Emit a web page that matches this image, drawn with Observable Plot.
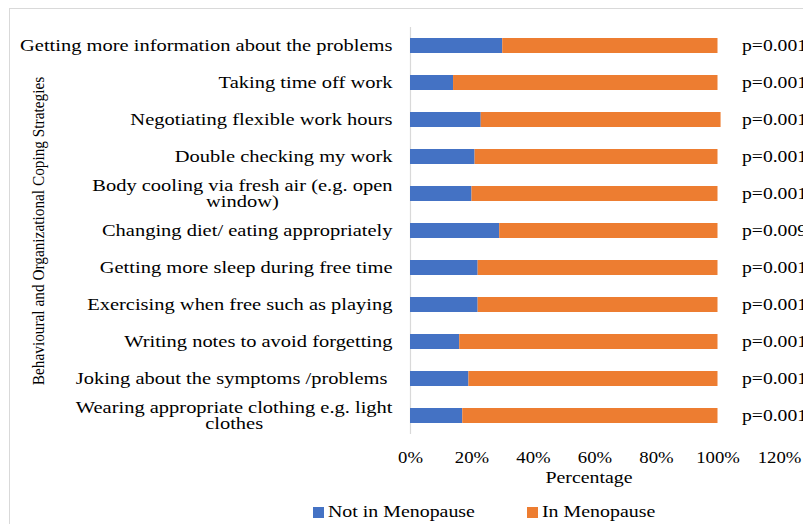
<!DOCTYPE html>
<html>
<head>
<meta charset="utf-8">
<script src="https://cdn.jsdelivr.net/npm/d3@7"></script>
<script src="https://cdn.jsdelivr.net/npm/@observablehq/plot@0.6"></script>
<style>
  html, body { margin: 0; padding: 0; background: #fff; overflow: hidden; width: 803px; height: 524px; }
  #wrap { position: relative; width: 803px; height: 524px; overflow: hidden; font-family: "Liberation Serif", "Times New Roman", serif; color: #000; }
  #frame { position: absolute; left: 9px; top: 8px; width: 900px; height: 600px; border: 1px solid #d9d9d9; pointer-events: none; }
  #chart { position: absolute; left: 0; top: 0; }
  #chart svg { overflow: hidden; }
  .lg { position: absolute; top: 502px; height: 20px; line-height: 20px; font-size: 17px; white-space: nowrap; }
  .lg .sw { display: inline-block; width: 11px; height: 11px; vertical-align: middle; position: relative; top: -1px; }
  .lg .tx { display: inline-block; transform: scaleX(1.17); transform-origin: left center; margin-left: 4px; }
</style>
</head>
<body>
<div id="wrap">
  <div id="frame"></div>
  <div id="chart"></div>
  <div id="legend"></div>
</div>
<script>
const strategies = [
  "Getting more information about the problems",
  "Taking time off work",
  "Negotiating flexible work hours",
  "Double checking my work",
  "Body cooling via fresh air (e.g. open\nwindow)",
  "Changing diet/ eating appropriately",
  "Getting more sleep during free time",
  "Exercising when free such as playing",
  "Writing notes to avoid forgetting",
  "Joking about the symptoms /problems ",
  "Wearing appropriate clothing e.g. light\nclothes"
];
const notInMenopause = [30, 14, 23, 21, 20, 29, 22, 22, 16, 19, 17];
const inMenopause    = [70, 86, 78, 79, 80, 71, 78, 78, 84, 81, 83];
const pValues = ["p=0.001", "p=0.001", "p=0.001", "p=0.001", "p=0.001", "p=0.009", "p=0.001", "p=0.001", "p=0.001", "p=0.001", "p=0.001"];
const series = ["Not in Menopause", "In Menopause"];
const seriesColors = ["#4472C4", "#ED7D31"];
const xTicks = [0, 20, 40, 60, 80, 100, 120];
const xTitle = "Percentage";
const yTitle = "Behavioural and Organizational Coping Strategies";

const rows = strategies.flatMap((s, i) => [
  {strategy: s, group: series[0], value: notInMenopause[i]},
  {strategy: s, group: series[1], value: inMenopause[i]}
]);

const plot = Plot.plot({
  width: 803,
  height: 495,
  marginLeft: 410,
  marginRight: 24,
  marginTop: 27,
  marginBottom: 61,
  style: {fontFamily: "'Liberation Serif', 'Times New Roman', serif", color: "#000", background: "transparent"},
  x: {domain: [0, 120], ticks: xTicks},
  y: {domain: strategies, paddingInner: 0.6, paddingOuter: 0.3},
  color: {domain: series, range: seriesColors},
  marks: [
    Plot.ruleX([0], {stroke: "#d9d9d9", strokeWidth: 1.2}),
    Plot.barX(rows, {x: "value", y: "strategy", fill: "group"}),
    Plot.axisX({ticks: xTicks, tickSize: 0, tickPadding: 17, fontSize: 16, label: null, tickFormat: d => d + "%"}),
    Plot.axisY({tickSize: 0, tickPadding: 18, fontSize: 17.5, label: null, lineHeight: 0.9}),
    Plot.text(strategies, {x: () => 100, y: d => d, text: (d, i) => pValues[i], dx: 24, textAnchor: "start", fontSize: 16.8}),
    Plot.text([xTitle], {frameAnchor: "bottom", dy: 48, dx: -6, fontSize: 17}),
    Plot.text([yTitle], {frameAnchor: "left", textAnchor: "middle", rotate: -90, dx: -372, fontSize: 17.5})
  ]
});
document.getElementById("chart").appendChild(plot);

// Horizontal stretch of the text to match the reference proportions
const S = 1.17;
plot.querySelectorAll("text").forEach(t => {
  const spans = t.querySelectorAll("tspan");
  const targets = spans.length ? Array.from(spans) : [t];
  // the rotated title is condensed along its length instead
  const k = t.textContent === yTitle ? 0.875 : S;
  targets.forEach(el => {
    const L = el.getComputedTextLength();
    if (L > 0) {
      el.setAttribute("textLength", (L * k).toFixed(2));
      el.setAttribute("lengthAdjust", "spacingAndGlyphs");
    }
  });
});

// Center multi-line y labels within their block (right edge kept)
plot.querySelectorAll("text").forEach(t => {
  const spans = t.querySelectorAll("tspan");
  if (spans.length < 2) return;
  const bb = t.getBBox();
  const right = bb.x + bb.width;
  const mid = right - bb.width / 2;
  spans.forEach(sp => {
    const b = sp.getBBox();
    const shift = (mid - b.width / 2) - b.x;
    sp.setAttribute("dx", shift.toFixed(2));
  });
});

// Legend
const legendPos = [313, 527];
const legend = document.getElementById("legend");
series.forEach((s, i) => {
  const item = document.createElement("div");
  item.className = "lg";
  item.style.left = legendPos[i] + "px";
  item.innerHTML = `<span class="sw" style="background:${seriesColors[i]}"></span><span class="tx">${s}</span>`;
  legend.appendChild(item);
});
</script>
</body>
</html>
